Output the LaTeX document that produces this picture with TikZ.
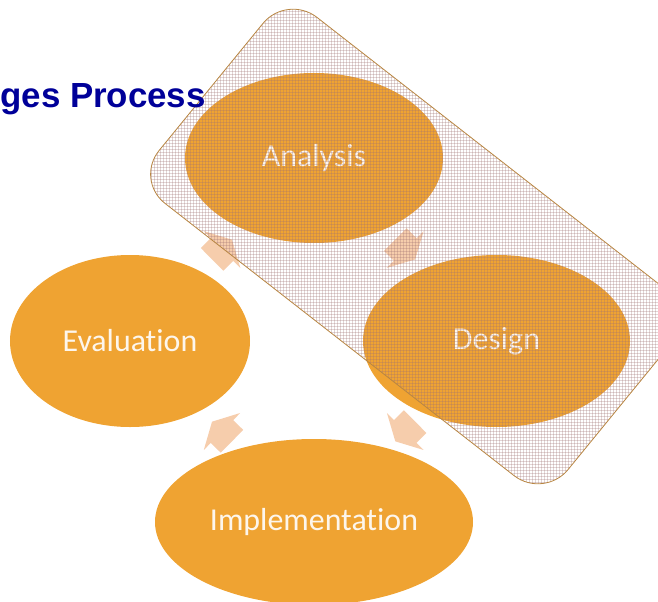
\documentclass[tikz,border=0pt]{standalone}
\usepackage{fontspec}
\setmainfont{Carlito}[Ligatures=NoCommon]
\newfontfamily\titlefont{Liberation Sans}
\usetikzlibrary{shapes.geometric}
\definecolor{stagefill}{RGB}{239,163,50}
\definecolor{arrowfill}{RGB}{246,205,172}
\definecolor{boxline}{RGB}{184,134,66}
\definecolor{gridcol}{RGB}{160,115,115}
\definecolor{titleblue}{RGB}{0,0,153}
\definecolor{labelcol}{RGB}{253,246,236}
\begin{document}
\begin{tikzpicture}[x=1bp,y=-1bp,
  stage/.style={ellipse, fill=stagefill, draw=none, inner sep=0pt,
    text=labelcol, font=\fontsize{32}{38}\selectfont},
  cyclearrow/.pic={\fill[arrowfill] (-14,-16) -- (0,-16) -- (0,-26) -- (14,0)
     -- (0,26) -- (0,16) -- (-14,16) -- cycle;},
  boxedge/.style={draw=boxline, line width=0.8bp, rounded corners=38bp},
  gridline/.style={draw=gridcol, line width=0.5bp, opacity=0.3},
  titletext/.style={text=titleblue, font=\titlefont\bfseries\fontsize{35}{40}\selectfont,
    inner sep=0pt, anchor=base east}
]
\useasboundingbox (0,0) rectangle (658,602);
\clip (0,0) rectangle (658,602);

\node[stage, minimum width=258bp, minimum height=170bp] (analysis) at (314,158) {\raisebox{-3bp}{Analysis}};
\node[stage, minimum width=267bp, minimum height=172bp] (design) at (496.5,341) {\raisebox{-3bp}{Design}};
\node[stage, minimum width=318bp, minimum height=166bp] (implementation) at (314,522) {\raisebox{-2bp}{Implementation}};
\node[stage, minimum width=240bp, minimum height=172bp] (evaluation) at (130,341) {\raisebox{-1bp}{Evaluation}};

\path (analysis.center) -- (design.center) pic[pos=0.5, sloped, allow upside down] {cyclearrow};
\path (design.center) -- (implementation.center) pic[pos=0.5, sloped, allow upside down] {cyclearrow};
\path (implementation.center) -- (evaluation.center) pic[pos=0.5, sloped, allow upside down] {cyclearrow};
\path (evaluation.center) -- (analysis.center) pic[pos=0.5, sloped, allow upside down] {cyclearrow};

\coordinate (bt) at (287,-6);
\coordinate (br) at (696,313);
\coordinate (bb) at (544,499);
\coordinate (bl) at (135,180);
\begin{scope}
  \clip[rounded corners=38bp] (211,87) -- (bt) -- (br) -- (bb) -- (bl) -- cycle;
  \foreach \i in {0,...,190} {\path[gridline] (130+3*\i,-10) -- ++(0,520);}
  \foreach \j in {0,...,175} {\path[gridline] (130,-10+3*\j) -- ++(570,0);}
\end{scope}
\path[boxedge] (211,87) -- (bt) -- (br) -- (bb) -- (bl) -- cycle;

\node[titletext] (title) at (206,108) {ges Process};
\end{tikzpicture}
\end{document}
